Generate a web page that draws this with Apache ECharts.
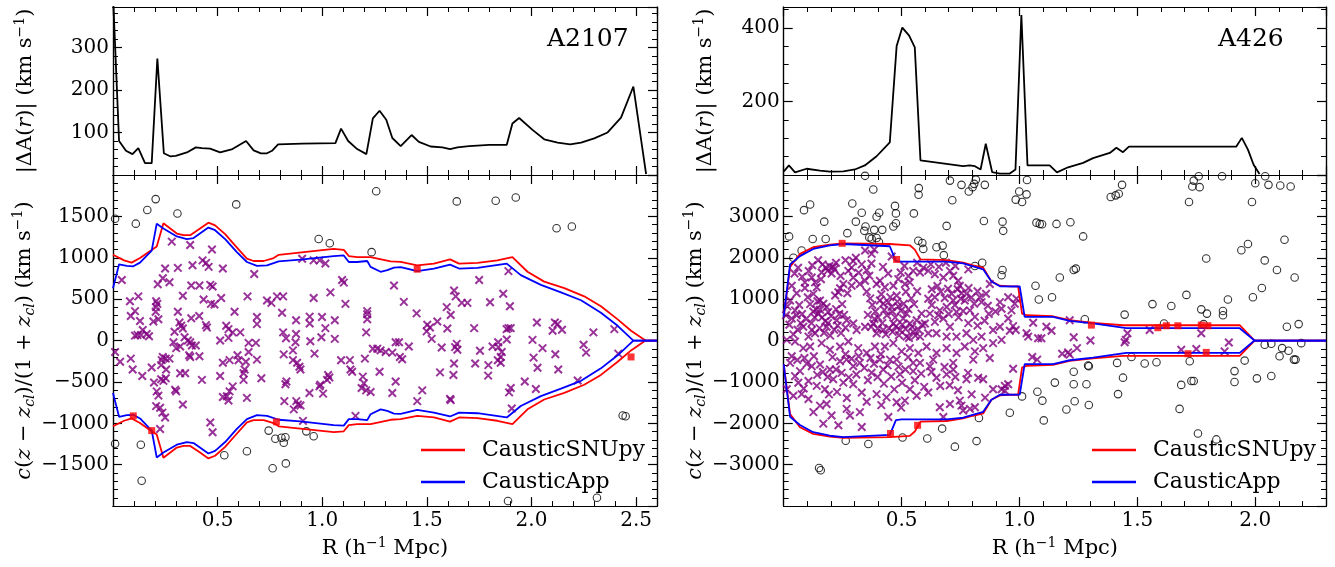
<!DOCTYPE html>
<html>
<head>
<meta charset="utf-8">
<script src="https://cdn.jsdelivr.net/npm/echarts@6.0.0/dist/echarts.min.js"></script>
<style>
  html, body { margin: 0; padding: 0; background: #fff; }
  #chart { width: 1335px; height: 567px; }
</style>
</head>
<body>
<div id="chart"></div>
<script>
// ---------------- A2107 ----------------
// |ΔA(r)| profile
const deltaA_A2107 = [[0.002,400],[0.029,80],[0.062,57],[0.093,49],[0.121,63],[0.153,28],[0.185,28],[0.212,274],[0.243,51],[0.273,44],[0.300,45],[0.353,53],[0.396,65],[0.425,63],[0.464,62],[0.512,53],[0.571,61],[0.636,80],[0.672,58],[0.707,51],[0.736,51],[0.760,57],[0.789,72],[0.904,74],[1.063,75],[1.090,109],[1.124,80],[1.167,61],[1.211,49],[1.242,133],[1.274,151],[1.306,130],[1.335,87],[1.375,68],[1.427,94],[1.462,78],[1.518,67],[1.574,65],[1.611,61],[1.646,65],[1.702,68],[1.798,71],[1.882,71],[1.909,121],[1.941,134],[2.005,106],[2.061,84],[2.125,76],[2.185,72],[2.237,76],[2.300,86],[2.364,100],[2.428,135],[2.487,208],[2.548,2]];
// caustic amplitudes (upper branch; lower branch is its mirror)
const causticSNUpy_A2107 = [[0,1036],[0.053,969],[0.089,941],[0.129,997],[0.169,1068],[0.209,1135],[0.241,1416],[0.305,1293],[0.337,1273],[0.369,1273],[0.416,1353],[0.456,1424],[0.488,1392],[0.536,1285],[0.584,1147],[0.640,989],[0.672,961],[0.720,961],[0.768,997],[0.792,1036],[1.055,1107],[1.103,1096],[1.127,1021],[1.167,1009],[1.231,1009],[1.327,957],[1.375,950],[1.454,909],[1.534,929],[1.611,980],[1.654,929],[1.742,938],[1.837,969],[1.909,1009],[1.981,831],[2.061,712],[2.157,633],[2.252,534],[2.332,415],[2.412,256],[2.476,119],[2.545,0],[2.6,0]];
const causticApp_A2107 = [[0,633],[0.029,921],[0.066,902],[0.097,897],[0.129,941],[0.185,1087],[0.209,1412],[0.241,1353],[0.305,1258],[0.353,1226],[0.385,1238],[0.456,1365],[0.488,1333],[0.536,1226],[0.592,1068],[0.640,949],[0.688,902],[0.736,909],[0.792,957],[0.895,977],[1.055,1021],[1.103,1028],[1.127,949],[1.167,949],[1.215,961],[1.231,890],[1.279,831],[1.311,850],[1.343,882],[1.375,886],[1.454,838],[1.534,870],[1.611,917],[1.654,870],[1.742,878],[1.882,929],[1.949,790],[2.045,672],[2.141,581],[2.237,487],[2.332,336],[2.412,178],[2.487,0],[2.6,0]];
// member galaxies (R, velocity)
const members_A2107 = [[0.281,1195],[0.369,1155],[0.473,1100],[0.428,969],[0.445,938],[0.249,871],[0.310,878],[0.380,910],[0.457,890],[0.525,871],[0.675,803],[0.042,732],[0.238,752],[0.270,704],[0.214,681],[0.374,665],[0.413,665],[0.465,673],[0.476,653],[0.081,475],[0.121,534],[0.105,356],[0.085,297],[0.129,237],[0.142,127],[0.105,59],[0.117,67],[0.134,67],[0.161,79],[0.172,51],[0.206,475],[0.212,443],[0.206,404],[0.204,348],[0.193,230],[0.217,257],[0.334,542],[0.310,348],[0.294,107],[0.318,218],[0.326,178],[0.334,146],[0.342,40],[0.358,0],[0.369,-20],[0.289,-20],[0.302,-91],[0.321,-71],[0.377,-59],[0.396,-59],[0.433,495],[0.374,269],[0.449,158],[0.485,435],[0.517,514],[0.468,443],[0.412,297],[0.444,186],[0.512,0],[0.552,32],[0.581,348],[0.608,99],[0.541,178],[0.552,138],[0.572,99],[0.648,-28],[0.683,-28],[0.688,285],[0.688,198],[0.643,534],[0.736,483],[0.784,534],[0.757,455],[0.813,534],[0.808,336],[0.813,99],[0.827,28],[0.875,245],[0.875,79],[0.872,-20],[0.940,289],[0.940,206],[0.943,-8],[0.959,514],[0.999,285],[0.996,40],[1.015,150],[1.060,245],[1.060,20],[1.095,732],[1.103,700],[1.111,443],[1.039,582],[0.904,989],[0.959,969],[0.988,969],[1.015,930],[1.215,356],[1.215,317],[1.215,257],[1.210,99],[1.343,665],[1.351,-20],[0.010,-138],[0.034,-257],[0.085,-218],[0.238,-198],[0.233,-237],[0.252,-218],[0.270,-218],[0.364,-178],[0.369,-198],[0.413,-190],[0.557,-237],[0.595,-178],[0.635,-257],[0.688,-230],[0.860,-119],[0.860,-237],[0.963,-158],[1.132,-237],[1.204,-218],[1.263,-99],[1.279,-119],[1.303,-138],[1.367,-20],[1.335,-146],[0.094,-349],[0.140,-428],[0.185,-325],[0.230,-297],[0.254,-349],[0.230,-467],[0.241,-487],[0.252,-455],[0.209,-614],[0.217,-665],[0.206,-792],[0.225,-812],[0.236,-871],[0.249,-930],[0.225,-1069],[0.196,-507],[0.321,-396],[0.345,-396],[0.297,-594],[0.302,-614],[0.334,-772],[0.425,-475],[0.465,-990],[0.476,-1108],[0.512,-428],[0.525,-269],[0.624,-396],[0.624,-475],[0.629,-349],[0.600,-238],[0.648,-139],[0.709,-455],[0.525,-681],[0.544,-673],[0.552,-724],[0.557,-614],[0.572,-554],[0.640,-693],[0.816,-167],[0.829,-495],[0.824,-527],[0.819,-732],[0.880,-269],[0.891,-317],[0.896,-349],[0.864,-831],[0.876,-732],[0.884,-772],[0.896,-784],[0.908,-970],[0.939,-634],[0.987,-554],[0.991,-534],[1.004,-641],[1.023,-475],[1.028,-416],[1.034,-447],[1.090,-238],[1.159,-910],[1.242,-99],[1.194,-436],[1.199,-515],[1.188,-574],[1.210,-602],[1.231,-622],[1.135,-349],[1.143,-376],[1.274,-376],[1.351,-495],[1.335,-634],[1.371,-198],[1.750,732],[1.890,839],[1.630,605],[1.638,534],[1.667,455],[1.694,455],[1.865,566],[1.802,463],[1.897,415],[1.390,467],[1.451,328],[1.595,404],[1.614,309],[1.550,230],[1.502,190],[1.499,111],[1.515,158],[1.523,20],[1.598,146],[1.726,150],[1.881,138],[1.890,150],[1.901,150],[1.882,12],[2.026,218],[2.112,218],[2.125,198],[2.101,119],[2.146,131],[2.005,8],[2.053,-91],[2.114,-166],[2.249,-51],[2.261,-146],[2.296,99],[2.396,138],[2.415,-158],[1.414,-71],[1.571,-83],[1.635,-79],[1.643,-40],[1.646,-111],[1.754,-123],[1.814,-71],[1.841,-20],[1.842,-79],[1.858,-138],[1.853,-198],[2.010,-206],[1.731,-277],[1.794,-297],[1.630,-277],[1.382,-226],[1.839,-238],[1.853,-269],[2.029,-329],[2.128,-349],[1.563,-384],[1.627,-416],[1.793,-424],[1.478,-602],[1.454,-732],[1.611,-705],[1.614,-720],[1.901,-574],[1.893,-626],[1.968,-495],[2.021,-586],[2.221,-483],[1.906,-820]];
// interlopers
const interlopers_A2107 = [[0.010,1472],[0.109,1412],[0.164,1578],[0.204,1709],[0.308,1535],[0.589,1645],[0.983,1226],[1.036,1175],[1.236,1068],[1.258,1804],[1.643,1681],[1.829,1689],[1.925,1728],[2.120,1357],[2.193,1377],[0.010,-1246],[0.133,-1258],[0.137,-1694],[0.532,-1385],[0.640,-1338],[0.744,-1088],[0.776,-1187],[0.763,-1543],[0.805,-1175],[0.824,-1168],[0.816,-1234],[0.826,-1484],[0.924,-1097],[0.959,-1156],[2.436,-905],[2.450,-915],[1.888,-1939],[2.313,-1899]];
const marked_A2107 = [[0.097,-910],[0.185,-1088],[0.781,-982],[1.454,862],[2.476,-198]];

// ---------------- A426 ----------------
const deltaA_A426 = [[0.001,10],[0.022,26],[0.048,7],[0.097,17],[0.154,12],[0.196,9],[0.253,10],[0.302,15],[0.344,26],[0.394,51],[0.450,89],[0.479,351],[0.503,401],[0.532,379],[0.556,347],[0.580,40],[0.761,24],[0.789,26],[0.811,24],[0.835,15],[0.857,85],[0.884,8],[0.917,4],[0.959,4],[0.983,15],[1.008,435],[1.034,26],[1.128,26],[1.159,7],[1.206,21],[1.270,33],[1.312,46],[1.383,60],[1.411,74],[1.439,62],[1.464,77],[1.919,77],[1.943,101],[1.969,69],[1.993,28],[2.018,3]];
const causticSNUpy_A426 = [[0,571],[0.027,1778],[0.069,2095],[0.125,2254],[0.196,2318],[0.253,2349],[0.450,2333],[0.535,2302],[0.556,2198],[0.580,1960],[0.691,1944],[0.761,1881],[0.803,1817],[0.846,1762],[0.881,1429],[0.917,1325],[0.959,1310],[0.994,1310],[1.011,651],[1.030,611],[1.142,587],[1.213,492],[1.312,429],[1.439,370],[1.934,370],[1.997,0],[2.3,0]];
const causticApp_A426 = [[0,571],[0.027,1841],[0.069,2040],[0.125,2214],[0.196,2300],[0.253,2333],[0.450,2278],[0.476,1921],[0.500,1905],[0.691,1905],[0.761,1865],[0.846,1722],[0.881,1429],[0.917,1310],[1.001,1306],[1.022,571],[1.142,571],[1.213,476],[1.312,413],[1.453,298],[1.934,298],[1.997,0],[2.3,0]];
const members_A426 = [[0.345,2175],[0.373,2095],[0.384,2199],[0.295,1921],[0.331,1841],[0.288,1762],[0.274,1683],[0.165,1841],[0.194,1802],[0.210,1778],[0.178,1762],[0.215,1722],[0.161,1643],[0.186,1683],[0.203,1619],[0.090,1405],[0.090,1270],[0.034,1325],[0.119,1524],[0.133,1405],[0.140,1286],[0.126,1127],[0.102,1048],[0.055,1143],[0.027,968],[0.016,825],[0.010,611],[0.034,532],[0.055,611],[0.048,730],[0.154,968],[0.168,889],[0.182,810],[0.154,746],[0.218,1087],[0.232,1167],[0.253,1365],[0.239,1262],[0.270,1143],[0.288,1325],[0.295,1524],[0.323,1365],[0.345,1445],[0.363,1564],[0.394,1365],[0.408,1445],[0.429,1286],[0.465,1325],[0.479,1087],[0.486,1484],[0.496,1643],[0.514,1365],[0.535,1405],[0.408,968],[0.422,889],[0.444,929],[0.458,810],[0.486,825],[0.507,532],[0.521,651],[0.549,1683],[0.578,1643],[0.592,1762],[0.613,1683],[0.641,1603],[0.677,1524],[0.705,1683],[0.719,1564],[0.740,1445],[0.747,1325],[0.754,1143],[0.775,1127],[0.768,968],[0.719,968],[0.691,810],[0.662,730],[0.641,1048],[0.613,1008],[0.620,651],[0.585,651],[0.564,492],[0.535,413],[0.599,413],[0.641,452],[0.677,532],[0.705,333],[0.733,691],[0.761,714],[0.790,730],[0.811,571],[0.832,1048],[0.839,929],[0.874,1365],[0.917,929],[0.924,770],[0.888,254],[0.917,333],[0.952,532],[0.083,333],[0.119,254],[0.133,175],[0.105,95],[0.182,333],[0.225,492],[0.267,492],[0.295,413],[0.309,254],[0.345,333],[0.380,413],[0.394,175],[0.422,254],[0.465,413],[0.493,254],[0.521,95],[0.549,214],[0.578,95],[0.613,175],[0.648,175],[0.691,95],[0.733,95],[0.775,175],[0.804,16],[0.839,95],[0.013,16],[0.048,-24],[0.083,-183],[0.112,-143],[0.161,-63],[0.196,-222],[0.239,-143],[0.274,-24],[0.316,-183],[0.352,-302],[0.387,-143],[0.429,-143],[0.465,-63],[0.500,-262],[0.535,-183],[0.571,-302],[0.606,-143],[0.648,-302],[0.691,-183],[0.733,-302],[0.768,-143],[0.811,-262],[0.846,-183],[0.888,-63],[0.924,16],[0.267,-460],[0.323,-540],[0.408,-460],[0.479,-460],[0.549,-540],[0.634,-460],[0.719,-540],[0.804,-460],[0.874,-421],[0.027,-540],[0.069,-738],[0.119,-619],[0.154,-579],[0.196,-698],[0.239,-500],[0.295,-619],[0.373,-778],[0.422,-698],[0.451,-460],[0.493,-818],[0.549,-738],[0.578,-540],[0.620,-619],[0.648,-897],[0.691,-818],[0.719,-698],[0.775,-937],[0.825,-897],[0.846,-937],[0.888,-1175],[0.938,-1095],[0.013,-1175],[0.041,-1333],[0.076,-1294],[0.105,-976],[0.140,-1095],[0.175,-1175],[0.210,-937],[0.253,-1016],[0.295,-1056],[0.331,-1254],[0.394,-1294],[0.436,-1373],[0.479,-1492],[0.514,-1452],[0.535,-1175],[0.564,-1333],[0.613,-1254],[0.662,-1611],[0.705,-1532],[0.747,-1452],[0.754,-1572],[0.761,-1691],[0.790,-1651],[0.811,-1611],[0.105,-1413],[0.126,-1730],[0.154,-1572],[0.182,-1532],[0.168,-2008],[0.203,-1810],[0.232,-2048],[0.281,-1810],[0.323,-1730],[0.331,-2087],[0.267,-1651],[0.444,-1849],[0.677,-1849],[0.952,1048],[0.966,730],[0.980,889],[0.987,1008],[0.973,349],[0.984,254],[0.959,238],[1.058,429],[1.030,175],[1.037,95],[1.079,56],[1.093,56],[1.114,333],[1.136,238],[1.213,492],[1.230,79],[1.244,-183],[1.181,-317],[1.206,-286],[1.213,-341],[1.054,-397],[1.075,-460],[1.301,0],[1.451,16],[1.446,-40],[1.458,175],[1.552,254],[1.686,-222],[1.750,-206],[1.771,175],[1.870,-262],[1.888,-48],[0.924,-1175],[0.938,-1214],[0.952,-1056],[0.973,-683],
  // dense inner core
  [0.112,880],[0.138,760],[0.147,640],[0.163,560],[0.176,470],[0.189,690],[0.201,590],[0.222,760],[0.236,640],[0.248,880],[0.118,420],[0.131,560],[0.152,300],[0.171,190],[0.188,420],[0.197,120],[0.214,260],[0.229,360],[0.243,180],[0.256,620],[0.262,310],[0.125,700],[0.143,950],[0.066,860],[0.072,420],[0.059,260],[0.041,150],[0.024,380],[0.078,640],[0.095,520],
  [0.352,1180],[0.367,1020],[0.376,860],[0.389,700],[0.401,560],[0.414,1120],[0.427,740],[0.438,610],[0.452,1050],[0.461,700],[0.473,560],[0.482,940],[0.497,720],[0.509,890],[0.518,1180],[0.529,760],[0.541,1020],[0.553,880],[0.566,1190],[0.357,620],[0.371,330],[0.385,520],[0.399,290],[0.418,420],[0.433,150],[0.447,300],[0.462,210],[0.476,340],[0.489,130],[0.503,380],[0.517,280],[0.531,60],[0.545,330],[0.558,120],[0.572,260],[0.587,380],
  [0.628,1240],[0.652,1320],[0.666,1180],[0.683,1030],[0.697,1250],[0.712,1130],[0.726,860],[0.738,1240],[0.751,1010],[0.784,1270],[0.796,1040],[0.808,890],[0.822,1190],[0.858,1130],[0.866,840],[0.628,860],[0.655,610],[0.700,640],[0.742,560],[0.783,420],[0.822,360],[0.852,480],[0.870,640],[0.898,700],
  [0.034,-380],[0.058,-470],[0.088,-420],[0.098,-560],[0.128,-380],[0.142,-830],[0.166,-760],[0.186,-880],[0.207,-400],[0.222,-700],[0.246,-780],[0.262,-330],[0.276,-890],[0.288,-440],[0.308,-820],[0.318,-380],[0.342,-660],[0.357,-960],[0.368,-420],[0.383,-560],[0.398,-880],[0.412,-330],[0.425,-1040],[0.441,-600],[0.456,-870],[0.469,-1180],[0.487,-630],[0.502,-1020],[0.516,-700],[0.528,-400],[0.556,-960],[0.583,-800],[0.596,-1120],[0.627,-760],[0.664,-1100],[0.682,-640],[0.704,-1080],[0.728,-880],[0.739,-1200],[0.782,-780],[0.797,-1300],[0.854,-1380],[0.062,-1020],[0.085,-1160],[0.048,-860],[0.192,-1300],[0.226,-1240],[0.268,-1390],[0.352,-1480],[0.414,-1560],[0.498,-1620],
  [0.046,1620],[0.061,1760],[0.078,1540],[0.106,1680],[0.121,1820],[0.146,1940],[0.158,1480],[0.222,1880],[0.241,1560],[0.262,1940],[0.306,2000],[0.318,1640],[0.352,1700],[0.372,1860],[0.421,1780],[0.443,1620],[0.458,2030],[0.512,1800],[0.529,1560],[0.566,1880],[0.624,1840],[0.658,1780],[0.688,1880],[0.728,1800],[0.783,1720]];
const interlopers_A426 = [[0.023,2516],[0.041,2000],[0.076,2175],[0.086,3151],[0.112,3286],[0.123,2453],[0.172,2873],[0.178,2453],[0.270,2595],[0.291,3310],[0.306,2873],[0.331,3087],[0.342,2651],[0.347,2754],[0.363,2492],[0.373,2460],[0.380,3651],[0.384,2675],[0.394,2476],[0.394,2992],[0.405,3087],[0.404,2381],[0.418,2675],[0.465,2754],[0.472,3254],[0.476,3072],[0.476,2834],[0.552,3072],[0.571,2413],[0.573,3683],[0.572,3524],[0.588,2357],[0.592,2214],[0.648,2254],[0.674,2294],[0.679,2064],[0.691,2770],[0.705,3865],[0.715,3389],[0.754,3762],[0.785,3603],[0.801,3707],[0.808,3786],[0.815,3889],[0.849,2889],[0.853,3762],[0.811,1802],[0.842,1881],[0.928,2873],[0.931,2651],[0.928,1706],[0.924,1579],[0.345,3980],[0.263,-2421],[0.359,-2500],[0.504,-2341],[0.609,-2365],[0.672,-2127],[0.726,-2564],[0.818,-2429],[0.828,-1873],[0.959,-1746],[0.150,-3080],[0.157,-3135],[1.032,3881],[0.999,3603],[1.030,3532],[0.984,3405],[1.011,3349],[1.072,2849],[1.086,2818],[1.096,2810],[1.157,2818],[1.216,2857],[1.270,2516],[1.387,3468],[1.408,3508],[1.421,3548],[1.435,3762],[1.719,3349],[1.733,3722],[1.739,3865],[1.764,3707],[1.760,3969],[1.859,3969],[1.986,3349],[2.000,3802],[2.042,3969],[2.056,3762],[2.106,3746],[2.150,3722],[1.792,1984],[1.969,2333],[1.941,2183],[2.124,2437],[2.040,1937],[2.092,1706],[2.167,1524],[2.028,1270],[1.990,1048],[1.884,992],[1.863,714],[1.863,611],[1.795,651],[1.771,754],[1.708,1103],[1.644,833],[1.564,881],[1.613,413],[1.446,627],[1.277,516],[1.230,1706],[1.239,1738],[1.171,1524],[1.138,1048],[1.082,992],[1.068,1325],[1.781,397],[1.955,-484],[2.040,-103],[2.068,-79],[2.114,-183],[2.103,-381],[2.141,-246],[2.164,-460],[2.171,-460],[2.195,-63],[2.184,397],[2.134,333],[1.475,-397],[1.414,-540],[1.581,-524],[1.531,-556],[1.722,-500],[1.291,-603],[1.011,-1349],[1.076,-1238],[1.097,-1452],[1.103,-1929],[1.150,-1016],[1.199,-1667],[1.230,-754],[1.234,-1468],[1.230,-1056],[1.284,-1056],[1.294,-1556],[1.294,-619],[1.418,-1294],[1.439,-897],[1.686,-1071],[1.679,-1651],[1.729,-976],[1.739,-976],[1.757,-2246],[1.835,-2389],[1.912,-738],[1.912,-1000],[2.007,-913],[2.068,-857]];
const marked_A426 = [[0.248,2349],[0.479,1960],[0.453,-2246],[0.568,-2048],[1.305,373],[1.587,310],[1.623,357],[1.672,357],[1.771,373],[1.799,357],[1.715,-318],[1.792,-286]];

// ---------------- styling helpers ----------------
const FONT = "'DejaVu Serif', 'Liberation Serif', serif";
const RED = '#ff0000', BLUE = '#0000ff', PURPLE = '#800080';
const fmtX = v => v.toFixed(1);
const fmtY = v => (v < 0 ? '\u2212' + Math.abs(v) : String(v));

const xAxes = [], yAxes = [];

function frameAxis(grid, position, min, max, interval, tickLen, tickWidth, label, extra) {
  return Object.assign({
    type: 'value', gridIndex: grid, position, min, max, interval,
    splitLine: { show: false },
    axisLine: { show: true, onZero: false, lineStyle: { color: '#000', width: 1.2 } },
    axisTick: { show: true, inside: true, length: tickLen, lineStyle: { color: '#000', width: tickWidth } },
    axisLabel: label || { show: false },
    axisPointer: { show: false }
  }, extra || {});
}

function tickLabel(formatter, margin) {
  return { show: true, formatter, fontFamily: FONT, fontSize: 20, color: '#000', margin,
           showMinLabel: false, showMaxLabel: false };
}

const nameRich = {
  i: { fontFamily: FONT, fontSize: 21, fontStyle: 'italic', color: '#000' },
  s: { fontFamily: FONT, fontSize: 14, fontStyle: 'italic', color: '#000', verticalAlign: 'bottom', lineHeight: 14 },
  sup: { fontFamily: FONT, fontSize: 14, color: '#000', verticalAlign: 'top', lineHeight: 14 }
};
const nameStyle = { fontFamily: FONT, fontSize: 21, color: '#000', lineHeight: 26, rich: nameRich };

// one panel = one grid framed by a major+minor axis pair on each side
function panel(grid, xr, yr, opts) {
  const xi = xAxes.length;
  xAxes.push(frameAxis(grid, 'bottom', xr[0], xr[1], 0.1, 5, 1));
  xAxes.push(frameAxis(grid, 'bottom', xr[0], xr[1], 0.5, 9, 1.2,
    opts.xLabels ? tickLabel(fmtX, 5) : null,
    opts.xName ? { name: opts.xName, nameLocation: 'middle', nameGap: 28, nameTextStyle: nameStyle } : null));
  xAxes.push(frameAxis(grid, 'top', xr[0], xr[1], 0.1, 5, 1));
  xAxes.push(frameAxis(grid, 'top', xr[0], xr[1], 0.5, 9, 1.2));

  const yi = yAxes.length;
  yAxes.push(frameAxis(grid, 'left', yr[0], yr[1], yr[3], 5, 1));
  yAxes.push(frameAxis(grid, 'left', yr[0], yr[1], yr[2], 9, 1.2, tickLabel(fmtY, 4),
    { name: opts.yName, nameLocation: 'middle', nameRotate: 90, nameGap: opts.yGap, nameTextStyle: nameStyle }));
  yAxes.push(frameAxis(grid, 'right', yr[0], yr[1], yr[3], 5, 1));
  yAxes.push(frameAxis(grid, 'right', yr[0], yr[1], yr[2], 9, 1.2));
  return { x: xi + 1, y: yi + 1 };
}

const grids = [
  { left: 113, top: 7, width: 544, height: 168 },
  { left: 113, top: 175, width: 544, height: 337 },
  { left: 783.7, top: 7, width: 542.3, height: 168 },
  { left: 783.7, top: 175, width: 542.3, height: 337 }
];

const dAName = '|\u0394A({i|r})| (km s{sup|\u22121})';
const vName = '{i|c}({i|z} \u2212 {i|z}{s|cl})/(1 + {i|z}{s|cl}) (km s{sup|\u22121})';
const rName = 'R (h{sup|\u22121} Mpc)';

const pTL = panel(0, [0, 2.6], [0, 395, 100, 20], { xLabels: false, yName: dAName, yGap: 74 });
const pBL = panel(1, [0, 2.6], [-2000, 2000, 500, 100], { xLabels: true, xName: rName, yName: vName, yGap: 74 });
const pTR = panel(2, [0, 2.3], [0, 457, 200, 50], { xLabels: false, yName: dAName, yGap: 65 });
const pBR = panel(3, [0, 2.3], [-4000, 4000, 1000, 200], { xLabels: true, xName: rName, yName: vName, yGap: 70 });

const mirror = arr => arr.map(p => [p[0], -p[1]]);

function profileSeries(p, data) {
  return { type: 'line', xAxisIndex: p.x, yAxisIndex: p.y, data, symbol: 'none', clip: true,
           lineStyle: { color: '#000', width: 1.8 }, itemStyle: { color: '#000' }, z: 3, animation: false };
}
function causticSeries(p, name, color, data) {
  return { type: 'line', name, xAxisIndex: p.x, yAxisIndex: p.y, data, symbol: 'none', clip: true,
           lineStyle: { color, width: 1.8 }, itemStyle: { color }, z: 4, animation: false };
}
function phaseSpace(p, members, interlopers, snu, app, marked) {
  return [
    { type: 'scatter', name: 'members', xAxisIndex: p.x, yAxisIndex: p.y, data: members,
      symbol: 'path://M0,0L10,10M10,0L0,10', symbolSize: 7.5,
      itemStyle: { color: 'none', borderColor: PURPLE, borderWidth: 2 }, z: 2, animation: false },
    { type: 'scatter', name: 'interlopers', xAxisIndex: p.x, yAxisIndex: p.y, data: interlopers,
      symbol: 'circle', symbolSize: 7.5,
      itemStyle: { color: 'none', borderColor: '#000', borderWidth: 1.1 }, z: 2, animation: false },
    causticSeries(p, 'CausticSNUpy', RED, snu),
    causticSeries(p, 'CausticSNUpy', RED, mirror(snu)),
    causticSeries(p, 'CausticApp', BLUE, app),
    causticSeries(p, 'CausticApp', BLUE, mirror(app)),
    { type: 'scatter', name: 'marked', xAxisIndex: p.x, yAxisIndex: p.y, data: marked,
      symbol: 'rect', symbolSize: 7, itemStyle: { color: RED }, z: 5, animation: false }
  ];
}

function legendAt(left) {
  return {
    data: ['CausticSNUpy', 'CausticApp'], orient: 'vertical', left, top: 437, padding: 0,
    itemGap: 6, itemWidth: 44, itemHeight: 2.5, icon: 'rect', selectedMode: false,
    textStyle: { fontFamily: FONT, fontSize: 22, color: '#000', lineHeight: 26, padding: [0, 0, 0, 12] }
  };
}

const option = {
  backgroundColor: '#fff',
  animation: false,
  grid: grids,
  xAxis: xAxes,
  yAxis: yAxes,
  legend: [legendAt(421), legendAt(1092)],
  graphic: [
    { type: 'text', left: 547, top: 27, style: { text: 'A2107', fontFamily: FONT, fontSize: 25, fill: '#000' } },
    { type: 'text', left: 1218, top: 27, style: { text: 'A426', fontFamily: FONT, fontSize: 25, fill: '#000' } }
  ],
  series: [
    profileSeries(pTL, deltaA_A2107),
    profileSeries(pTR, deltaA_A426),
    ...phaseSpace(pBL, members_A2107, interlopers_A2107, causticSNUpy_A2107, causticApp_A2107, marked_A2107),
    ...phaseSpace(pBR, members_A426, interlopers_A426, causticSNUpy_A426, causticApp_A426, marked_A426)
  ]
};

const chart = echarts.init(document.getElementById('chart'), null, { renderer: 'canvas' });
chart.setOption(option);
</script>
</body>
</html>
